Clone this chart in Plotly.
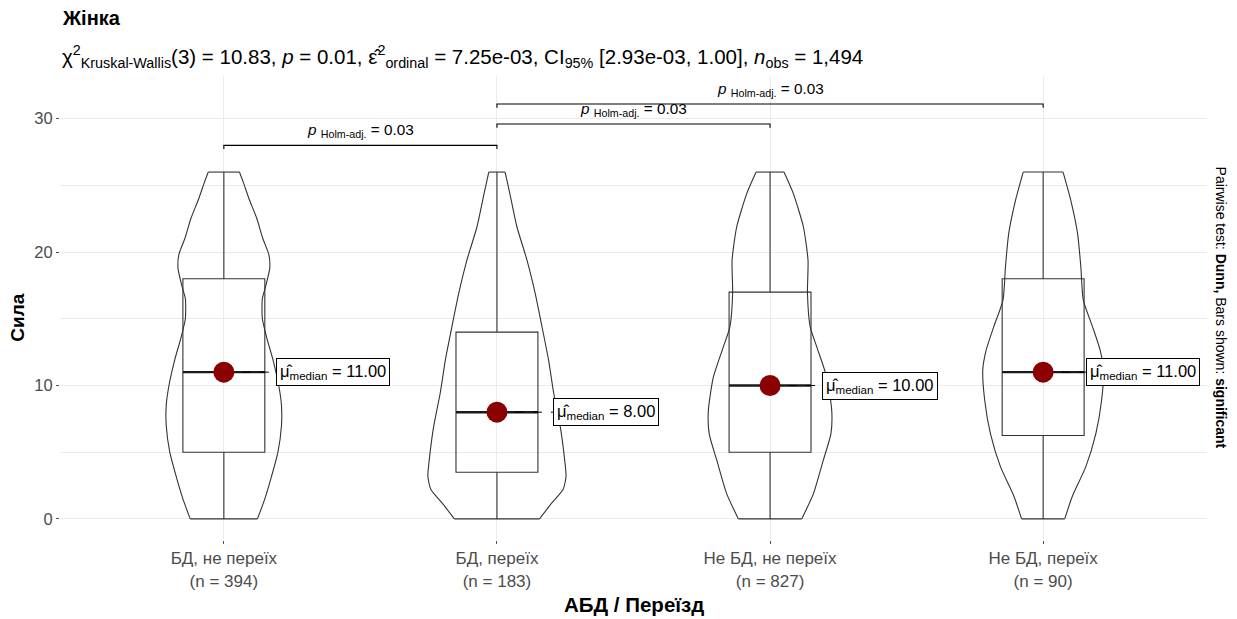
import plotly.graph_objects as go

# ---------------- data ----------------
categories = ["БД, не переїх", "БД, переїх", "Не БД, не переїх", "Не БД, переїх"]
n_obs = [394, 183, 827, 90]
medians = [11, 8, 10, 11]
q1 = [5, 3.5, 5, 6.25]
q3 = [18, 14, 17, 18]
mins = [0, 0, 0, 0]
maxs = [26, 26, 26, 26]

# violin outlines: value levels and half-widths (in category units)
v1_levels = [0, 1.5, 3, 5, 7, 8.5, 10, 12, 13.5, 15, 16.5, 17.5, 18.8, 19.8, 21, 22.5, 24, 25.3, 26]
v1_half = [0.123, 0.150, 0.172, 0.198, 0.211, 0.211, 0.201, 0.179, 0.158, 0.141, 0.141, 0.154, 0.168, 0.165, 0.143, 0.121, 0.092, 0.070, 0.057]
v2_levels = [0, 1.2, 2.2, 3.2, 4.4, 6.9, 9.4, 11.9, 14.4, 16.9, 19.4, 21.9, 24.4, 26]
v2_half = [0.156, 0.201, 0.242, 0.253, 0.248, 0.232, 0.208, 0.189, 0.165, 0.140, 0.110, 0.073, 0.047, 0.030]
v3_levels = [0, 1.9, 4.4, 6.4, 8.1, 10.6, 12.9, 14.4, 16.9, 19.4, 21.9, 24.4, 26]
v3_half = [0.116, 0.159, 0.195, 0.223, 0.226, 0.208, 0.171, 0.147, 0.137, 0.139, 0.122, 0.085, 0.051]
v4_levels = [0, 1.7, 3.9, 6.4, 8.9, 11.2, 12.7, 14.4, 16.4, 18.9, 21.4, 23.9, 26]
v4_half = [0.079, 0.107, 0.156, 0.193, 0.214, 0.221, 0.208, 0.181, 0.147, 0.138, 0.126, 0.101, 0.073]

violin_levels = [v1_levels, v2_levels, v3_levels, v4_levels]
violin_half = [v1_half, v2_half, v3_half, v4_half]

# pairwise comparisons (group a, group b, bracket height, label)
pair_a = [0, 1, 1]
pair_b = [1, 2, 3]
pair_y = [28.0, 29.6, 31.1]
pair_p = ["0.03", "0.03", "0.03"]

title_text = "Жінка"
subtitle_text = ("χ<sup>2</sup><sub>Kruskal-Wallis</sub>(3) = 10.83, <i>p</i> = 0.01, "
                 "ε̂<sup>2</sup><sub>ordinal</sub> = 7.25e-03, CI<sub>95%</sub> [2.93e-03, 1.00], "
                 "<i>n</i><sub>obs</sub> = 1,494")
x_title = "АБД / Переїзд"
y_title = "Сила"
caption = "Pairwise test: <b>Dunn,</b> Bars shown: <b>significant</b>"

# ---------------- style ----------------
FONT = "Liberation Sans, Arial, Helvetica, sans-serif"
LINE = "#333333"
GRID = "#EBEBEB"
TICKC = "#4D4D4D"
BOX_W = 0.3
label_offsets = [0.19, 0.205, 0.192, 0.158]

fig = go.Figure()

# violins: curved sides + flat ends
for i, (lv, hw) in enumerate(zip(violin_levels, violin_half)):
    xs = [i - h for h in hw] + [None] + [i + h for h in hw]
    ys = list(lv) + [None] + list(lv)
    fig.add_trace(go.Scatter(x=xs, y=ys, mode="lines", connectgaps=False,
                             line=dict(color=LINE, width=1.1, shape="spline", smoothing=0.6),
                             hoverinfo="skip", showlegend=False))
    fig.add_trace(go.Scatter(x=[i - hw[0], i + hw[0], None, i - hw[-1], i + hw[-1]],
                             y=[lv[0], lv[0], None, lv[-1], lv[-1]], mode="lines",
                             line=dict(color=LINE, width=1.1),
                             hoverinfo="skip", showlegend=False))

# boxes
for i in range(len(categories)):
    fig.add_trace(go.Box(x=[i], q1=[q1[i]], median=[medians[i]], q3=[q3[i]],
                         lowerfence=[mins[i]], upperfence=[maxs[i]],
                         width=BOX_W, whiskerwidth=0, boxpoints=False,
                         line=dict(color=LINE, width=1.1),
                         fillcolor="rgba(255,255,255,0)", showlegend=False, hoverinfo="skip"))
    fig.add_trace(go.Scatter(x=[i - BOX_W / 2, i + BOX_W / 2], y=[medians[i], medians[i]],
                             mode="lines", line=dict(color="#1A1A1A", width=2.4),
                             hoverinfo="skip", showlegend=False))
    fig.add_trace(go.Scatter(x=[i, i + label_offsets[i]], y=[medians[i], medians[i]],
                             mode="lines", line=dict(color="black", width=1, dash="dash"),
                             hoverinfo="skip", showlegend=False))

# median points
fig.add_trace(go.Scatter(x=list(range(len(categories))), y=medians, mode="markers",
                         marker=dict(color="#8B0000", size=21, line=dict(width=0)),
                         hoverinfo="skip", showlegend=False))

annotations = []
for i in range(len(categories)):
    annotations.append(dict(
        x=i + label_offsets[i], y=medians[i], xref="x", yref="y",
        xanchor="left", yanchor="middle", showarrow=False,
        text="μ̂<sub>median</sub> = %.2f" % medians[i],
        font=dict(family=FONT, size=16.5, color="black"),
        bgcolor="white", bordercolor="black", borderwidth=1, borderpad=3))

# brackets
TIP = 0.28
for a, b, yv, p in zip(pair_a, pair_b, pair_y, pair_p):
    fig.add_trace(go.Scatter(x=[a, a, b, b], y=[yv - TIP, yv, yv, yv - TIP], mode="lines",
                             line=dict(color="black", width=1.1),
                             hoverinfo="skip", showlegend=False))
    annotations.append(dict(
        x=(a + b) / 2, y=yv, xref="x", yref="y", yshift=15,
        xanchor="center", yanchor="middle", showarrow=False,
        text="<i>p</i> <sub>Holm-adj.</sub> = " + p,
        font=dict(family=FONT, size=15.3, color="black")))

# titles
annotations.append(dict(x=0, y=1.126, xref="paper", yref="paper", xanchor="left", yanchor="middle",
                        showarrow=False, text="<b>" + title_text + "</b>",
                        font=dict(family=FONT, size=20, color="black")))
annotations.append(dict(x=0, y=1.042, xref="paper", yref="paper", xanchor="left", yanchor="middle",
                        showarrow=False, text=subtitle_text,
                        font=dict(family=FONT, size=20.5, color="black")))
annotations.append(dict(x=0.5, y=-0.138, xref="paper", yref="paper", xanchor="center", yanchor="middle",
                        showarrow=False, text="<b>" + x_title + "</b>",
                        font=dict(family=FONT, size=20.5, color="black")))
annotations.append(dict(x=-0.0366, y=0.479, xref="paper", yref="paper", xanchor="center", yanchor="middle",
                        showarrow=False, text="<b>" + y_title + "</b>", textangle=-90,
                        font=dict(family=FONT, size=19, color="black")))
annotations.append(dict(x=1.0126, y=0.5, xref="paper", yref="paper", xanchor="center", yanchor="middle",
                        showarrow=False, text=caption, textangle=90,
                        font=dict(family=FONT, size=14, color="black")))

ticktext = ["%s<br>(n = %d)" % (c, n) for c, n in zip(categories, n_obs)]

fig.update_layout(
    width=1237, height=619,
    margin=dict(l=60, r=30, t=76, b=79),
    paper_bgcolor="white", plot_bgcolor="white",
    showlegend=False,
    annotations=annotations,
    xaxis=dict(range=[-0.6, 3.6], tickmode="array", tickvals=list(range(len(categories))),
               ticktext=ticktext, showgrid=True, gridcolor=GRID, gridwidth=1,
               zeroline=False, showline=False, ticks="outside", ticklen=3, tickcolor=TICKC,
               tickfont=dict(family=FONT, size=17, color=TICKC)),
    yaxis=dict(range=[-1.58, 33.2], tickmode="array", tickvals=[0, 10, 20, 30],
               showgrid=True, gridcolor=GRID, gridwidth=1,
               minor=dict(tickmode="array", tickvals=[5, 15, 25], showgrid=True, gridcolor=GRID, gridwidth=1),
               zeroline=False, showline=False, ticks="outside", ticklen=3, tickcolor=TICKC,
               tickfont=dict(family=FONT, size=16.5, color=TICKC)),
)

fig.write_html("out.html", config={"displayModeBar": False},
               post_script="document.body.style.margin='0';document.body.style.overflow='hidden';")
